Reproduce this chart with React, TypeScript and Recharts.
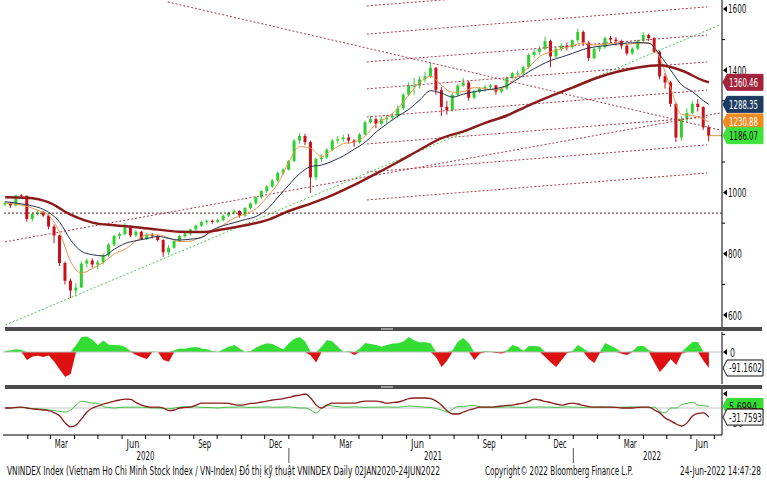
import React from 'react';
import { ComposedChart, Bar, Line, Area, XAxis, YAxis, ReferenceLine } from 'recharts';

const FONT = "'Liberation Sans Narrow', 'Arial Narrow', 'DejaVu Sans Condensed', sans-serif";

// weekly candles, week 0 = 03JAN2020 ... week 129 = 24JUN2022
const opens = [
  961, 965, 958, 991, 990, 914, 930, 935, 925, 889,
  860, 770, 712, 680, 690, 768, 778, 765, 772, 795,
  830, 858, 864, 885, 860, 872, 848, 862, 858, 845,
  805, 820, 842, 858, 866, 880, 892, 904, 908, 904,
  910, 925, 935, 940, 925, 950, 965, 985, 1005, 1020,
  1040, 1065, 1075, 1103, 1170, 1185, 1165, 1050, 1110, 1115,
  1140, 1170, 1175, 1180, 1170, 1165, 1190, 1230, 1240, 1225,
  1240, 1245, 1250, 1275, 1320, 1350, 1350, 1370, 1380, 1408,
  1335, 1280, 1270, 1320, 1350, 1360, 1310, 1330, 1340, 1345,
  1350, 1330, 1340, 1375, 1390, 1390, 1410, 1450, 1460, 1470,
  1495, 1445, 1470, 1480, 1475, 1498, 1525, 1490, 1440, 1470,
  1475, 1505, 1500, 1495, 1480, 1455, 1470, 1495, 1515, 1505,
  1460, 1380, 1360, 1290, 1180, 1240, 1260, 1290, 1280, 1213,
];
const highs = [
  972, 970, 993, 995, 990, 935, 942, 940, 928, 896,
  862, 775, 720, 705, 775, 785, 785, 780, 800, 835,
  862, 870, 900, 892, 878, 875, 868, 868, 862, 848,
  828, 845, 862, 870, 882, 896, 908, 912, 912, 915,
  928, 938, 945, 942, 952, 968, 988, 1008, 1025, 1045,
  1068, 1080, 1106, 1175, 1195, 1192, 1170, 1115, 1125, 1145,
  1175, 1185, 1190, 1192, 1175, 1195, 1235, 1250, 1245, 1248,
  1255, 1260, 1285, 1325, 1360, 1375, 1380, 1395, 1425, 1410,
  1345, 1300, 1325, 1355, 1375, 1365, 1335, 1345, 1352, 1355,
  1352, 1345, 1380, 1395, 1400, 1415, 1455, 1468, 1478, 1510,
  1500, 1478, 1488, 1490, 1500, 1535, 1530, 1495, 1475, 1480,
  1510, 1512, 1508, 1500, 1485, 1475, 1500, 1525, 1520, 1508,
  1465, 1390, 1365, 1295, 1250, 1275, 1300, 1305, 1282, 1220,
];
const lows = [
  955, 950, 955, 982, 905, 905, 925, 920, 880, 835,
  760, 700, 655, 660, 688, 755, 755, 750, 765, 790,
  825, 848, 860, 855, 855, 845, 845, 850, 840, 790,
  795, 815, 838, 852, 860, 875, 888, 895, 898, 900,
  906, 920, 928, 918, 920, 945, 960, 980, 998, 1015,
  1035, 1058, 1072, 1100, 1160, 1155, 1000, 1040, 1100, 1110,
  1135, 1160, 1165, 1160, 1150, 1160, 1188, 1225, 1210, 1220,
  1225, 1235, 1245, 1270, 1315, 1320, 1340, 1360, 1375, 1320,
  1250, 1255, 1265, 1315, 1345, 1300, 1305, 1325, 1330, 1335,
  1320, 1325, 1335, 1370, 1380, 1385, 1405, 1440, 1450, 1465,
  1410, 1440, 1462, 1465, 1470, 1490, 1480, 1430, 1435, 1460,
  1470, 1490, 1480, 1470, 1448, 1450, 1465, 1490, 1495, 1455,
  1370, 1340, 1280, 1165, 1170, 1230, 1255, 1265, 1205, 1168,
];
const closes = [
  965, 958, 991, 990, 914, 930, 935, 925, 889, 860,
  770, 712, 680, 690, 768, 778, 765, 772, 795, 830,
  858, 864, 885, 860, 872, 848, 862, 858, 845, 805,
  820, 842, 858, 866, 880, 892, 904, 908, 904, 910,
  925, 935, 940, 925, 950, 965, 985, 1005, 1020, 1040,
  1065, 1075, 1103, 1170, 1185, 1165, 1050, 1110, 1115, 1140,
  1170, 1175, 1180, 1170, 1165, 1190, 1230, 1240, 1225, 1240,
  1245, 1250, 1275, 1320, 1350, 1350, 1370, 1380, 1408, 1335,
  1280, 1270, 1320, 1350, 1360, 1310, 1330, 1340, 1345, 1350,
  1330, 1340, 1375, 1390, 1390, 1410, 1450, 1460, 1470, 1495,
  1445, 1470, 1480, 1475, 1498, 1525, 1490, 1440, 1470, 1475,
  1505, 1500, 1495, 1480, 1455, 1470, 1495, 1515, 1505, 1460,
  1380, 1360, 1290, 1180, 1240, 1260, 1290, 1280, 1213, 1186.07,
];

// moving averages
const slowWeeks = [0, 4, 8, 12, 16, 20, 24, 28, 32, 36, 40, 44, 48, 52, 56, 60, 64, 68, 72, 76, 80, 84, 88, 92, 96, 100, 104, 108, 112, 116, 120, 124, 128, 129];
const ma200 = [985, 983, 968, 928, 902, 893, 887, 879, 872, 871, 880, 893, 910, 940, 964, 992, 1025, 1062, 1100, 1140, 1178, 1200, 1228, 1252, 1285, 1315, 1343, 1372, 1394, 1409, 1416, 1399, 1366, 1360.46];
const fastWeeks = [
  0, 2, 4, 6, 8, 10, 12, 14, 16, 18, 20, 22, 24, 26, 28, 30, 32, 34, 36, 38, 40, 42, 44, 46, 48, 50, 52, 54, 56, 58, 60, 62, 64,
  66, 68, 70, 72, 74, 76, 78, 80, 82, 84, 86, 88, 90, 92, 94, 96, 98, 100, 102, 104, 106, 108, 110, 112, 114, 116, 118, 120, 122, 124, 126, 128, 129,
];
const ma50 = [
  970, 966, 960, 952, 935, 903, 845, 808, 797, 793, 815, 834, 843, 850, 857, 850, 845, 848, 853, 878, 892, 902, 912, 922, 945, 985, 1025, 1062, 1085, 1090, 1103, 1120, 1142,
  1165, 1198, 1225, 1250, 1272, 1303, 1333, 1325, 1312, 1322, 1330, 1335, 1340, 1350, 1372, 1395, 1415, 1432, 1443, 1455, 1468, 1476, 1480, 1485, 1489, 1490, 1488, 1450, 1400, 1352, 1330, 1300, 1288.35,
];
const ma20 = [
  966, 962, 955, 942, 925, 870, 775, 737, 752, 772, 800, 815, 842, 862, 862, 852, 840, 842, 855, 872, 895, 917, 930, 948, 985, 1030, 1100, 1150, 1145, 1118, 1140, 1160, 1165,
  1185, 1225, 1245, 1275, 1320, 1360, 1380, 1350, 1328, 1330, 1343, 1340, 1335, 1350, 1380, 1410, 1445, 1460, 1470, 1480, 1489, 1482, 1485, 1489, 1485, 1488, 1490, 1440, 1340, 1255, 1252, 1240, 1230.88,
];

// lower panels
const momentum = [
  5, 10, 15, 12, -46, -25, -22, -28, -20, -55,
  -100, -143, -125, 40, 85, 88, 70, 40, 65, 42,
  40, 38, 28, 5, -17, -30, -40, 3, 0, -45,
  -55, 10, 20, 18, 25, 28, 20, 15, 5, 0,
  15, 30, 40, 20, 0, 5, 25, 40, 50, 45,
  28, 15, 50, 75, 86, 60, -20, -60, 30, 68,
  60, 30, 0, 5, -17, 20, 51, 45, 40, 30,
  40, 48, 50, 60, 86, 65, 55, 55, 50, -30,
  -86, -50, 10, 60, 80, 50, -46, -10, 5, 3,
  -5, -8, 10, 40, 30, 5, 34, 34, 30, -28,
  -60, -86, -45, -6, 5, 40, 20, -40, -63, -5,
  51, 35, 20, -10, -17, 5, 34, 34, 10, -60,
  -114, -80, -40, -74, -10, 30, 57, 57, -50, -91.1602,
];
const oscRed = [
  0, 0, 2, 3, 0, -3, -5, -7, -9, -17,
  -28, -52, -66, -60, -38, -14, 0, 7, 14, 19,
  24, 28, 31, 30, 19, 10, 5, 3, 3, 0,
  -9, -7, 0, 2, 3, 10, 17, 17, 17, 17,
  17, 16, 12, 10, 12, 16, 17, 21, 24, 28,
  30, 33, 37, 42, 45, 49, 35, 10, 0, 10,
  17, 17, 17, 17, 17, 21, 24, 24, 24, 21,
  17, 19, 21, 26, 33, 35, 35, 35, 33, 24,
  10, -10, -21, -21, -14, -7, -2, 3, 3, 3,
  5, 7, 9, 10, 14, 17, 23, 31, 28, 23,
  19, 14, 10, 14, 17, 14, 9, 5, 3, 3,
  3, 3, 2, 0, 0, 0, 2, 3, 3, -7,
  -17, -35, -45, -56, -63, -52, -28, -19, -17, -31.7593,
];
const oscGreen = [
  0, 0, 1, 2, 0, -2, -3, -4, -7, -9,
  -12, -14, -7, 10, 24, 21, 17, 17, 5, 2,
  0, 2, 3, 3, 3, 3, 2, 0, 0, -2,
  -3, 0, 3, 4, 5, 4, 2, 2, 1, 0,
  2, 3, 3, 4, 3, 2, 3, 3, 4, 3,
  3, 3, 4, 2, 0, 0, -7, -18, 0, 10,
  7, 5, 3, 3, 4, 3, 2, 3, 3, 3,
  4, 3, 3, 5, 7, 6, 4, 3, 2, -2,
  -7, -14, -5, 5, 5, 8, 9, 4, 3, 3,
  2, 3, 4, 3, 3, 2, 3, 3, 4, 3,
  3, 2, 3, 4, 3, 3, 2, 3, 3, 4,
  3, 3, 2, 3, 3, 4, 3, 3, 2, 3,
  -12, -17, 0, 0, 12, 16, 20, 10, 8, 5.6994,
];

// trend lines, [week, price] pairs
const channelFrom = 66.3;
const channelTo = 128.7;
const channelLeft = [1610, 1518, 1427, 1339, 1247, 1159, 1067, 976];
const channelRight = [1698, 1607, 1515, 1427, 1335, 1247, 1156, 1064];
const longLines = [
  { from: [29.8, 1623], to: [131.0, 1205], color: '#b0384a' },
  { from: [0, 839], to: [131.0, 1260], color: '#b0384a' },
  { from: [0, 567], to: [131.0, 1548], color: '#4ec94e' },
];
const supportLevel = 933;

const priceTicks = [600, 700, 800, 900, 1000, 1100, 1300, 1400, 1500, 1600];
const priceLabels = [600, 800, 1000, 1400, 1600];
const priceTags = [
  { value: 1360.46, text: '1360.46', bg: '#a3243a', fg: '#fff' },
  { value: 1288.35, text: '1288.35', bg: '#1d3c63', fg: '#fff' },
  { value: 1230.88, text: '1230.88', bg: '#f08a1c', fg: '#fff' },
  { value: 1186.07, text: '1186.07', bg: '#3de23d', fg: '#111' },
];

const monthLabels: [string, string][] = [
  ['2020-03-15', 'Mar'], ['2020-06-15', 'Jun'], ['2020-09-15', 'Sep'], ['2020-12-15', 'Dec'],
  ['2021-03-15', 'Mar'], ['2021-06-15', 'Jun'], ['2021-09-15', 'Sep'], ['2021-12-15', 'Dec'],
  ['2022-03-15', 'Mar'], ['2022-06-15', 'Jun'],
];
const yearLabels: [string, string][] = [['2020-07-01', '2020'], ['2021-07-05', '2021'], ['2022-04-12', '2022']];
const yearBreaks = ['2021-01-01', '2022-01-01'];

const START = Date.UTC(2020, 0, 3);
const toWeek = (iso: string) => (Date.parse(iso) - START) / (7 * 86400000);

const monthStarts: number[] = [];
for (let m = 1; m <= 30; m++) {
  monthStarts.push(toWeek(new Date(Date.UTC(2020, m, 1)).toISOString().slice(0, 10)));
}
const monthLabelMap = new Map(monthLabels.map(([d, t]) => [toWeek(d), t]));
const yearLabelMap = new Map(yearLabels.map(([d, t]) => [toWeek(d), t]));
const yearBreakWeeks = yearBreaks.map(toWeek);

const X_DOMAIN: [number, number] = [-0.4, 131.4];
const W = 767;
const MARGIN_L = 3;
const AXIS_W = 45;

const priceRows = closes.map((c, i) => {
  const si = slowWeeks.indexOf(i);
  const fi = fastWeeks.indexOf(i);
  return {
    w: i,
    open: opens[i],
    high: highs[i],
    low: lows[i],
    close: c,
    range: [lows[i], highs[i]],
    ma200: si >= 0 ? ma200[si] : null,
    ma50: fi >= 0 ? ma50[fi] : null,
    ma20: fi >= 0 ? ma20[fi] : null,
  };
});
const momRows = momentum.map((v, i) => ({ w: i, pos: Math.max(v, 0), neg: Math.min(v, 0) }));
const oscRows = oscRed.map((v, i) => ({ w: i, red: v, green: oscGreen[i] }));

const Candle = (props: any) => {
  const { x, y, width, height, payload } = props;
  if (!payload || x == null) return null;
  const { open, high, low, close } = payload;
  const top = Math.min(y, y + height);
  const h = Math.abs(height);
  const k = high > low ? h / (high - low) : 0;
  const bodyTop = top + (high - Math.max(open, close)) * k;
  const bodyH = Math.max(1, Math.abs(open - close) * k);
  const col = close >= open ? '#2fcf2f' : '#c8101a';
  const cx = x + width / 2;
  return (
    <g>
      <line x1={cx} x2={cx} y1={top} y2={top + h} stroke={col} strokeWidth={1} />
      <rect x={x} y={bodyTop} width={width} height={bodyH} fill={col} />
    </g>
  );
};

const Tag = ({ x, y, text, bg, fg, border, len }: any) => (
  <g>
    <polygon
      points={`${x + 1},${y} ${x + 5},${y - 8} ${x + 41},${y - 8} ${x + 41},${y + 8} ${x + 5},${y + 8}`}
      fill={bg}
      stroke={border || bg}
      strokeWidth={1}
    />
    <text
      x={x + 7}
      y={y + 4.5}
      fontSize={12.5}
      fill={fg}
      fontFamily={FONT}
      textLength={len || 29}
      lengthAdjust="spacingAndGlyphs"
    >
      {text}
    </text>
  </g>
);

const AxisText = ({ x, y, text, len }: any) => (
  <text x={x} y={y + 4.5} fontSize={12.5} fill="#111" fontFamily={FONT} textLength={len} lengthAdjust="spacingAndGlyphs">
    {text}
  </text>
);

const PriceTick = (props: any) => {
  const { x, y, payload } = props;
  const v = payload.value;
  const tag = priceTags.find((t) => t.value === v);
  if (tag) return <Tag x={x} y={y} text={tag.text} bg={tag.bg} fg={tag.fg} />;
  if (priceLabels.includes(v)) {
    return (
      <g>
        <polygon points={`${x + 1},${y} ${x + 5},${y - 3} ${x + 5},${y + 3}`} fill="#000" />
        <AxisText x={x + 6} y={y} text={String(v)} len={String(v).length * 4.6} />
      </g>
    );
  }
  return <line x1={x} x2={x + 3} y1={y} y2={y} stroke="#000" />;
};

const MomTick = (props: any) => {
  const { x, y, payload } = props;
  const v = payload.value;
  if (v === 0) {
    return (
      <g>
        <polygon points={`${x + 1},${y} ${x + 5},${y - 3} ${x + 5},${y + 3}`} fill="#000" />
        <AxisText x={x + 8} y={y} text="0" len={5} />
      </g>
    );
  }
  if (v === momentum[momentum.length - 1]) {
    return <Tag x={x} y={y} text={String(v)} bg="#fff" fg="#111" border="#111" len={33} />;
  }
  return <line x1={x} x2={x + 3} y1={y} y2={y} stroke="#000" />;
};

const OscTick = (props: any) => {
  const { x, y, payload } = props;
  const v = payload.value;
  if (v === oscGreen[oscGreen.length - 1]) {
    return (
      <g>
        <Tag x={x} y={y} text={String(v)} bg="#33dd33" fg="#111" len={28} />
        <rect x={x + 5} y={y + 2} width={36} height={3} fill="#8b1a1a" />
      </g>
    );
  }
  if (v === oscRed[oscRed.length - 1]) {
    return <Tag x={x} y={y} text={String(v)} bg="#fff" fg="#111" border="#111" len={33} />;
  }
  if (v === -50) {
    return <AxisText x={x + 8} y={y} text="-50" len={13} />;
  }
  return <polygon points={`${x + 1},${y} ${x + 5},${y - 3} ${x + 5},${y + 3}`} fill="#000" />;
};

const MonthTick = (props: any) => {
  const { x, y, payload } = props;
  const label = monthLabelMap.get(payload.value);
  if (label) {
    return (
      <text x={x} y={y + 13} textAnchor="middle" fontSize={12} fill="#111" fontFamily={FONT} textLength={13} lengthAdjust="spacingAndGlyphs">
        {label}
      </text>
    );
  }
  return <line x1={x} x2={x} y1={y} y2={y + 4} stroke="#000" />;
};

const YearTick = (props: any) => {
  const { x, y, payload } = props;
  const label = yearLabelMap.get(payload.value);
  if (label) {
    return (
      <text x={x} y={y + 11} textAnchor="middle" fontSize={12} fill="#111" fontFamily={FONT} textLength={18} lengthAdjust="spacingAndGlyphs">
        {label}
      </text>
    );
  }
  return <line x1={x} x2={x} y1={y - 1} y2={y + 14} stroke="#555" />;
};

const Separator = ({ top }: { top: number }) => (
  <div style={{ position: 'absolute', left: 5, top, width: 757, height: 4, background: '#4b4b4b' }}>
    <div style={{ position: 'absolute', left: 376, top: 1, width: 12, height: 2, background: '#9a9a9a' }} />
  </div>
);

export default function App() {
  return (
    <div style={{ position: 'absolute', left: 0, top: 0, width: W, height: 485, background: '#fff', overflow: 'hidden' }}>
      <div style={{ position: 'absolute', left: 0, top: 0 }}>
        <ComposedChart width={W} height={327} data={priceRows} margin={{ top: 0, right: 0, bottom: 0, left: MARGIN_L }}>
          <XAxis dataKey="w" type="number" domain={X_DOMAIN} allowDataOverflow hide />
          <YAxis
            orientation="right"
            width={AXIS_W}
            domain={[560.8, 1629.4]}
            allowDataOverflow
            ticks={[...priceTicks, ...priceTags.map((t) => t.value)]}
            interval={0}
            tickSize={0}
            tickMargin={0}
            axisLine={{ stroke: '#000' }}
            tickLine={false}
            tick={<PriceTick />}
          />
          <ReferenceLine y={supportLevel} stroke="#5a1a1a" strokeDasharray="2 2" ifOverflow="hidden" />
          {channelLeft.map((v, i) => (
            <ReferenceLine
              key={'ch' + i}
              segment={[{ x: channelFrom, y: v }, { x: channelTo, y: channelRight[i] }]}
              stroke="#b0384a"
              strokeDasharray="2 2"
              ifOverflow="hidden"
            />
          ))}
          {longLines.map((l, i) => (
            <ReferenceLine
              key={'ll' + i}
              segment={[{ x: l.from[0], y: l.from[1] }, { x: l.to[0], y: l.to[1] }]}
              stroke={l.color}
              strokeDasharray="2 2"
              ifOverflow="hidden"
            />
          ))}
          <ReferenceLine
            segment={[{ x: 129, y: 1186.07 }, { x: 131.4, y: 1186.07 }]}
            stroke="#d89040"
            ifOverflow="hidden"
          />
          <Bar dataKey="range" barSize={3} shape={<Candle />} isAnimationActive={false} />
          <Line dataKey="ma20" type="monotone" stroke="#e8944a" strokeWidth={1} dot={false} connectNulls isAnimationActive={false} />
          <Line dataKey="ma50" type="monotone" stroke="#23314f" strokeWidth={1} dot={false} connectNulls isAnimationActive={false} />
          <Line dataKey="ma200" type="monotone" stroke="#8b1a1a" strokeWidth={2.5} dot={false} connectNulls isAnimationActive={false} />
        </ComposedChart>
      </div>

      <Separator top={327} />

      <div style={{ position: 'absolute', left: 0, top: 331 }}>
        <ComposedChart width={W} height={54} data={momRows} margin={{ top: 1, right: 0, bottom: 1, left: MARGIN_L }}>
          <XAxis dataKey="w" type="number" domain={X_DOMAIN} allowDataOverflow hide />
          <YAxis
            orientation="right"
            width={AXIS_W}
            domain={[-182.4, 114]}
            allowDataOverflow
            ticks={[100, 0, -91.1602]}
            interval={0}
            tickSize={0}
            tickMargin={0}
            axisLine={{ stroke: '#000' }}
            tickLine={false}
            tick={<MomTick />}
          />
          <ReferenceLine y={0} stroke="#bbb" />
          <Area dataKey="pos" type="linear" baseValue={0} stroke="none" fill="#33dd33" fillOpacity={1} isAnimationActive={false} />
          <Area dataKey="neg" type="linear" baseValue={0} stroke="none" fill="#dd1111" fillOpacity={1} isAnimationActive={false} />
        </ComposedChart>
      </div>

      <Separator top={385} />

      <div style={{ position: 'absolute', left: 0, top: 389 }}>
        <ComposedChart width={W} height={96} data={oscRows} margin={{ top: 0, right: 0, bottom: 20, left: MARGIN_L }}>
          <XAxis
            dataKey="w"
            type="number"
            domain={X_DOMAIN}
            allowDataOverflow
            ticks={[...monthStarts, ...monthLabelMap.keys()]}
            interval={0}
            height={14}
            tickSize={0}
            tickMargin={0}
            axisLine={{ stroke: '#000' }}
            tickLine={false}
            tick={<MonthTick />}
          />
          <XAxis
            xAxisId="yr"
            dataKey="w"
            type="number"
            domain={X_DOMAIN}
            allowDataOverflow
            ticks={[...yearBreakWeeks, ...yearLabelMap.keys()]}
            interval={0}
            height={16}
            tickSize={0}
            tickMargin={0}
            axisLine={false}
            tickLine={false}
            tick={<YearTick />}
          />
          <YAxis
            orientation="right"
            width={AXIS_W}
            domain={[-94.5, 66.5]}
            allowDataOverflow
            ticks={[50, -50, oscGreen[oscGreen.length - 1], oscRed[oscRed.length - 1]]}
            interval={0}
            tickSize={0}
            tickMargin={0}
            axisLine={{ stroke: '#000' }}
            tickLine={false}
            tick={<OscTick />}
          />
          <ReferenceLine y={0} stroke="#c4c4c4" />
          <Line dataKey="green" type="monotone" stroke="#3cbf3c" strokeWidth={1} dot={false} isAnimationActive={false} />
          <Line dataKey="red" type="monotone" stroke="#8b1a1a" strokeWidth={1.3} dot={false} isAnimationActive={false} />
        </ComposedChart>
      </div>

      <svg width={W} height={24} style={{ position: 'absolute', left: 0, top: 461 }}>
        <text x={7} y={14} fontSize={12} fill="#111" fontFamily={FONT} textLength={433} lengthAdjust="spacingAndGlyphs">
          VNINDEX Index (Vietnam Ho Chi Minh Stock Index / VN-Index) Đồ thị kỹ thuật VNINDEX  Daily 02JAN2020-24JUN2022
        </text>
        <text x={485} y={14} fontSize={12} fill="#111" fontFamily={FONT} textLength={148} lengthAdjust="spacingAndGlyphs">
          Copyright© 2022 Bloomberg Finance L.P.
        </text>
        <text x={680} y={14} fontSize={12} fill="#111" fontFamily={FONT} textLength={81} lengthAdjust="spacingAndGlyphs">
          24-Jun-2022 14:47:28
        </text>
      </svg>
    </div>
  );
}
